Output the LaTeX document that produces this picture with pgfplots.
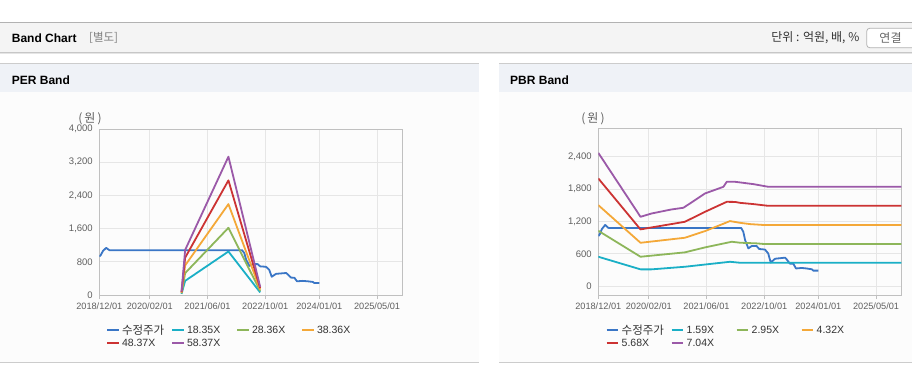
\documentclass[border=0pt]{standalone}
\usepackage{pgfplots}
\usepackage{pgfplotstable}
\pgfplotsset{compat=1.18}
\usepackage{fontspec}
\setmainfont{Liberation Sans}
\newfontfamily\kr{Noto Sans CJK KR}
\definecolor{cPrice}{HTML}{3A76C6}
\definecolor{cA}{HTML}{1AAFC6}
\definecolor{cB}{HTML}{8DB65A}
\definecolor{cC}{HTML}{F4A838}
\definecolor{cD}{HTML}{CC3333}
\definecolor{cE}{HTML}{9B59A8}
\definecolor{gridc}{HTML}{E6E6E6}
\definecolor{axisc}{HTML}{C0C0C0}
\definecolor{labc}{HTML}{606060}
\definecolor{hdrbg}{HTML}{F4F4F4}
\definecolor{panbg}{HTML}{EFF2F7}
\definecolor{bodybg}{HTML}{FCFCFC}

\pgfplotstableread{
m v
0.0 930
0.4 960
1.0 1060
1.9 1135
2.8 1080
39.6 1080
40.2 1008
40.7 855
41.6 701
42.5 744
43.9 744
44.6 690
46.2 680
47.1 609
47.8 440
49.0 510
50.4 520
51.8 530
52.2 500
53.1 420
54.1 415
54.8 330
56.4 340
57.8 330
59.2 315
59.6 290
61.0 290
}\price

\pgfplotstableread{
m a b c d e
22.8 26 40 54 68 82
23.8 341 527 713 900 1086
35.8 1048 1619 2190 2762 3333
44.6 62 96 130 164 198
}\perband

\pgfplotsset{
  bandaxis/.style={
    anchor=south west, scale only axis, width=303pt,
    xmin=0, xmax=84,
    xtick={0,14,30,46,61,77},
    xticklabels={2018/12/01,2020/02/01,2021/06/01,2022/10/01,2024/01/01,2025/05/01},
    tick pos=left,
    xtick align=outside,
    major tick length=4pt,
    xtick style={draw=axisc, line width=0.8pt},
    ytick style={draw=none},
    grid=major, major grid style={draw=gridc, line width=0.8pt},
    axis line style={draw=axisc, line width=1pt},
    xticklabel style={font=\fontsize{9.2}{10}\selectfont, text=labc},
    yticklabel style={font=\fontsize{9.5}{10}\selectfont, text=labc, xshift=-3pt, /pgf/number format/1000 sep={,}},
    /pgf/number format/assume math mode=true,
    scaled y ticks=false,
    every axis plot/.append style={line width=1.8pt, no markers, line join=round},
  }
}

\begin{document}
\begin{tikzpicture}[x=1pt,y=1pt]
\useasboundingbox (0,0) rectangle (912,364);
\fill[white] (0,0) rectangle (912,364);
% top header bar
\fill[hdrbg] (0,311.5) rectangle (912,341.5);
\draw[color=black!30, line width=1pt] (0,341.5) -- (912,341.5);
\draw[color=black!22, line width=1pt] (0,311.5) -- (912,311.5);
\draw[color=black!10, line width=1pt] (0,310.5) -- (912,310.5);
\node[anchor=west, inner sep=0, font=\bfseries\fontsize{12}{14}\selectfont] at (11.7,326) {Band Chart};
\node[anchor=west, inner sep=0, font=\kr\fontsize{11.5}{13}\selectfont, text=black!50] at (89,326) {[별도]};
\node[anchor=east, inner sep=0, font=\kr\fontsize{12}{14}\selectfont, text=black!80] at (859.5,326) {단위 : 억원, 배, \%};
\draw[rounded corners=3pt, draw=black!30, fill=white, line width=0.8pt] (866.7,316.3) rectangle (918,335.7);
\node[inner sep=0, font=\kr\fontsize{12}{14}\selectfont, text=black!60] at (890.5,326) {연결};
% panels
\fill[panbg] (0,271.5) rectangle (479,300);
\fill[panbg] (499,271.5) rectangle (912,300);
\draw[color=black!20, line width=1pt] (0,300) -- (479,300);
\draw[color=black!20, line width=1pt] (499,300) -- (912,300);
\fill[bodybg] (0,1.5) rectangle (479,271.5);
\fill[bodybg] (499,1.5) rectangle (912,271.5);
\draw[color=black!20, line width=1pt] (0,1.5) -- (479,1.5);
\draw[color=black!20, line width=1pt] (499,1.5) -- (912,1.5);
\node[anchor=west, inner sep=0, font=\bfseries\fontsize{12}{14}\selectfont] at (11.7,283.5) {PER Band};
\node[anchor=west, inner sep=0, font=\bfseries\fontsize{12}{14}\selectfont] at (510,283.5) {PBR Band};
\node[inner sep=0, font=\kr\fontsize{12}{14}\selectfont, text=labc] at (90,245) {(\,원\,)};
\node[inner sep=0, font=\kr\fontsize{12}{14}\selectfont, text=labc] at (593,245) {(\,원\,)};

% PER axis
\begin{axis}[bandaxis, at={(99.3pt,69pt)}, height=166pt,
  ymin=0, ymax=4000, ytick={0,800,1600,2400,3200,4000}]
\addplot[cPrice] table[x=m,y=v] {\price};
\addplot[cA] table[x=m,y=a] {\perband};
\addplot[cB] table[x=m,y=b] {\perband};
\addplot[cC] table[x=m,y=c] {\perband};
\addplot[cD] table[x=m,y=d] {\perband};
\addplot[cE] table[x=m,y=e] {\perband};
\end{axis}

% PBR axis
\begin{axis}[bandaxis, at={(598.3pt,69pt)}, height=166.5pt,
  ymin=-160, ymax=2917, ytick={0,600,1200,1800,2400}]
\addplot[cPrice] table[x=m,y=v] {\price};
\addplot[cA] coordinates {(0,547) (11.7,314) (14.8,314) (24.0,362) (36.5,454) (39.3,436) (84,436)};
\addplot[cB] coordinates {(0,1027) (11.7,547) (24.0,628) (29.6,720) (37.0,824) (39.3,806) (43.9,794) (46.2,781) (84,781)};
\addplot[cC] coordinates {(0,1501) (11.7,805) (24.0,898) (29.6,1021) (36.5,1206) (39.3,1174) (42.1,1150) (46.2,1132) (84,1132)};
\addplot[cD] coordinates {(0,1994) (11.7,1052) (14.8,1089) (24.0,1193) (29.6,1378) (35.6,1562) (37.9,1560) (39.3,1543) (43.0,1520) (47.1,1488) (84,1488)};
\addplot[cE] coordinates {(0,2467) (11.7,1285) (14.8,1347) (20.3,1421) (23.6,1452) (29.6,1717) (34.7,1840) (35.6,1932) (37.9,1932) (43.0,1889) (47.1,1840) (84,1840)};
\end{axis}

% legends
\begin{scope}[line width=2pt]
\foreach \ox/\la/\lb/\lc/\ld/\le in {107/18.35X/28.36X/38.36X/48.37X/58.37X, 606.7/1.59X/2.95X/4.32X/5.68X/7.04X}{
  \draw[cPrice] (\ox,33.7) -- ++(11.5,0);
  \node[anchor=west, inner sep=0, font=\kr\fontsize{11.5}{13}\selectfont, text=black!80] at (\ox+14,33.7) {수정주가};
  \draw[cA] (\ox+65,33.7) -- ++(11.5,0);
  \node[anchor=west, inner sep=0, font=\fontsize{10.5}{12}\selectfont, text=black!80] at (\ox+79,33.7) {\la};
  \draw[cB] (\ox+130,33.7) -- ++(11.5,0);
  \node[anchor=west, inner sep=0, font=\fontsize{10.5}{12}\selectfont, text=black!80] at (\ox+144,33.7) {\lb};
  \draw[cC] (\ox+195,33.7) -- ++(11.5,0);
  \node[anchor=west, inner sep=0, font=\fontsize{10.5}{12}\selectfont, text=black!80] at (\ox+209,33.7) {\lc};
  \draw[cD] (\ox,20.7) -- ++(11.5,0);
  \node[anchor=west, inner sep=0, font=\fontsize{10.5}{12}\selectfont, text=black!80] at (\ox+14,20.7) {\ld};
  \draw[cE] (\ox+65,20.7) -- ++(11.5,0);
  \node[anchor=west, inner sep=0, font=\fontsize{10.5}{12}\selectfont, text=black!80] at (\ox+79,20.7) {\le};
}
\end{scope}
\end{tikzpicture}
\end{document}
